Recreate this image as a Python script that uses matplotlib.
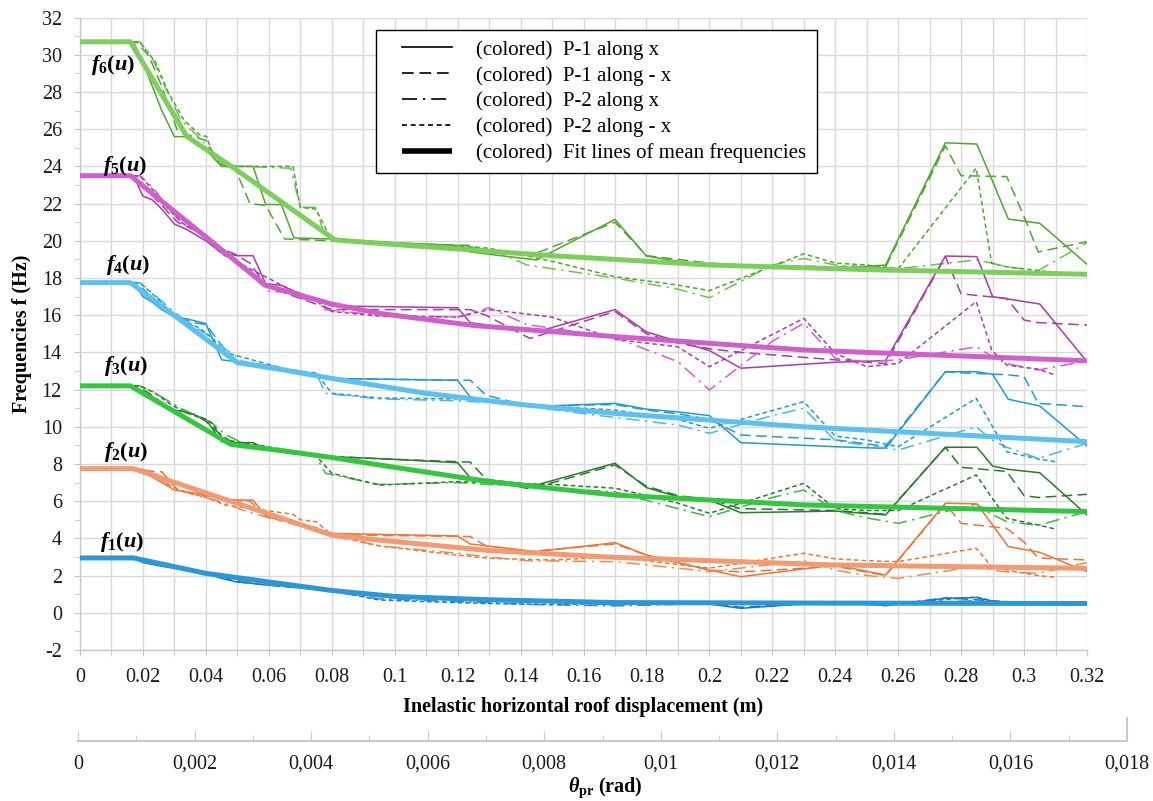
import numpy as np
import matplotlib
matplotlib.use("Agg")
import matplotlib.pyplot as plt
from matplotlib.lines import Line2D
from matplotlib.ticker import MultipleLocator
from matplotlib.legend_handler import HandlerLine2D

plt.rcParams['font.family'] = ['Liberation Serif', 'DejaVu Serif']
plt.rcParams['mathtext.fontset'] = 'custom'
plt.rcParams['mathtext.rm'] = 'Liberation Serif:bold'
plt.rcParams['mathtext.it'] = 'Liberation Serif:bold:italic'
plt.rcParams['mathtext.bf'] = 'Liberation Serif:bold'
plt.rcParams['axes.unicode_minus'] = False

# ---------------- data ----------------
X_S1 = [0, 0.017, 0.020, 0.023, 0.026, 0.030, 0.034, 0.040, 0.045, 0.050, 0.055, 0.059, 0.064, 0.068,
        0.080, 0.100, 0.120, 0.124, 0.145, 0.170, 0.180, 0.190, 0.200, 0.210, 0.240, 0.256, 0.275,
        0.285, 0.290, 0.295, 0.305, 0.320]
F6_S1 = [30.7, 30.7, 29.6, 28.3, 27.0, 25.6, 25.6, 24.9, 24.0, 24.0, 24.0, 21.95, 21.95, 20.15, 20.1,
         19.9, 19.75, 19.4, 18.97, 21.15, 19.18, 18.9, 18.7, 18.6, 18.5, 18.7, 25.27, 25.2, 23.2, 21.17,
         20.94, 18.74]
F5_S1 = [23.5, 23.5, 22.4, 22.2, 21.7, 20.9, 20.6, 20.0, 19.35, 19.2, 19.2, 17.7, 17.6, 17.3, 16.5,
         16.45, 16.4, 15.6, 15.1, 16.3, 15.1, 14.6, 14.1, 13.15, 13.47, 13.56, 19.18, 19.15, 17.0, 16.87,
         16.6, 13.5]
F4_S1 = [17.75, 17.75, 17.0, 16.7, 16.3, 15.9, 15.8, 15.55, 13.6, 13.5, 13.4, 13.3, 13.1, 13.0, 12.6,
         12.55, 12.5, 11.6, 11.1, 11.26, 10.95, 10.8, 10.6, 9.15, 8.93, 8.84, 12.96, 12.96, 12.82, 11.48,
         11.12, 8.97]
F3_S1 = [12.2, 12.2, 11.7, 11.5, 11.3, 10.9, 10.8, 10.4, 9.2, 9.15, 9.15, 8.8, 8.7, 8.55, 8.4, 8.25,
         8.07, 7.26, 6.87, 8.04, 6.73, 6.24, 6.06, 5.38, 5.47, 5.26, 8.9, 8.9, 7.89, 7.71, 7.53, 5.26]
F2_S1 = [7.75, 7.75, 7.55, 7.3, 7.0, 6.6, 6.5, 6.35, 6.1, 6.06, 6.06, 5.2, 5.0, 4.85, 4.27, 4.2, 4.13,
         3.7, 3.29, 3.77, 3.11, 2.7, 2.3, 1.94, 2.57, 2.03, 5.89, 5.86, 4.72, 3.56, 3.25, 2.21]
F1_S1 = [2.95, 2.95, 2.7, 2.6, 2.5, 2.4, 2.3, 2.12, 1.85, 1.65, 1.58, 1.5, 1.45, 1.38, 1.19, 0.85, 0.8,
         0.78, 0.69, 0.42, 0.5, 0.5, 0.47, 0.24, 0.6, 0.38, 0.78, 0.82, 0.62, 0.52, 0.5, 0.5]

X_S2 = [0, 0.018, 0.022, 0.026, 0.031, 0.036, 0.040, 0.0445, 0.049, 0.054, 0.059, 0.065, 0.080, 0.100,
        0.124, 0.129, 0.143, 0.170, 0.180, 0.190, 0.200, 0.210, 0.240, 0.256, 0.275, 0.280, 0.2945,
        0.300, 0.3045, 0.320]
F6_S2 = [30.7, 30.7, 29.9, 28.3, 25.9, 25.6, 25.4, 24.1, 24.0, 22.0, 21.9, 20.1, 20.0, 19.85, 19.75,
         19.5, 19.2, 21.0, 19.2, 19.0, 18.8, 18.7, 18.6, 18.6, 25.1, 23.5, 23.45, 21.3, 19.4, 19.95]
F5_S2 = [23.5, 23.5, 22.6, 21.9, 21.0, 20.6, 20.2, 19.6, 19.3, 18.8, 17.6, 17.2, 16.3, 16.3, 16.3, 16.0,
         14.75, 16.2, 15.0, 14.5, 14.2, 14.0, 13.6, 13.4, 19.15, 17.15, 16.9, 15.74, 15.6, 15.47]
F4_S2 = [17.75, 17.75, 17.1, 16.5, 15.9, 15.6, 15.5, 14.5, 13.5, 13.4, 13.3, 13.1, 12.6, 12.55, 12.5,
         11.7, 11.1, 11.2, 10.9, 10.7, 10.4, 9.56, 9.3, 8.95, 12.96, 12.9, 12.8, 12.7, 11.26, 11.08]
F3_S2 = [12.2, 12.2, 11.8, 11.3, 10.8, 10.7, 10.3, 9.6, 9.1, 9.1, 8.8, 8.6, 8.4, 8.25, 8.1, 7.2, 6.65,
         7.95, 6.8, 6.3, 6.1, 5.6, 5.5, 5.3, 8.9, 7.82, 7.6, 6.3, 6.2, 6.37]
F2_S2 = [7.75, 7.75, 7.62, 7.58, 6.6, 6.4, 6.3, 6.1, 6.05, 6.0, 5.2, 4.9, 4.2, 4.15, 4.1, 3.6, 3.3, 3.7,
         3.1, 2.7, 2.3, 2.2, 2.5, 2.0, 5.86, 4.81, 4.54, 3.8, 2.95, 2.84]
F1_S2 = [2.95, 2.95, 2.7, 2.6, 2.4, 2.3, 2.15, 2.0, 1.7, 1.6, 1.5, 1.4, 1.2, 0.9, 0.78, 0.72, 0.62, 0.5,
         0.5, 0.5, 0.5, 0.3, 0.55, 0.4, 0.8, 0.75, 0.6, 0.5, 0.5, 0.5]

X_S3 = [0, 0.019, 0.023, 0.027, 0.032, 0.037, 0.042, 0.046, 0.052, 0.060, 0.067, 0.070, 0.075, 0.078,
        0.095, 0.120, 0.130, 0.142, 0.170, 0.190, 0.200, 0.220, 0.230, 0.240, 0.250, 0.260, 0.2848,
        0.2897, 0.2945, 0.3045, 0.320]
F6_S3 = [30.7, 30.7, 29.8, 28.3, 26.5, 25.7, 24.8, 24.0, 24.0, 23.95, 23.9, 21.8, 21.8, 20.1, 19.9,
         19.7, 19.6, 18.7, 18.0, 17.4, 16.94, 18.7, 19.05, 18.7, 18.6, 18.5, 18.97, 18.8, 18.6, 18.4, 19.9]
F5_S3 = [23.5, 23.5, 22.9, 22.0, 21.0, 20.5, 19.9, 19.3, 18.5, 17.3, 17.2, 16.9, 16.8, 16.3, 16.0,
         15.9, 16.4, 15.5, 14.8, 13.5, 11.98, 14.6, 15.56, 13.68, 13.5, 13.6, 14.3, 13.8, 13.4, 13.05,
         13.55]
F4_S3 = [17.75, 17.75, 17.2, 16.6, 15.9, 15.3, 14.8, 14.2, 13.5, 13.3, 13.1, 13.0, 12.9, 11.8, 11.5,
         11.4, 11.3, 11.1, 10.5, 10.1, 9.65, 10.6, 11.0, 9.25, 9.0, 8.75, 10.0, 9.3, 8.9, 8.3, 9.11]
F3_S3 = [12.2, 12.2, 11.9, 11.5, 11.0, 10.6, 10.2, 9.6, 9.1, 8.9, 8.6, 8.5, 8.4, 7.5, 6.9, 7.0, 6.9,
         6.8, 6.5, 5.6, 5.17, 6.2, 6.6, 5.5, 5.1, 4.81, 5.85, 5.3, 4.9, 4.7, 5.44]
F2_S3 = [7.75, 7.75, 7.4, 7.0, 6.6, 6.3, 6.1, 5.9, 5.5, 5.1, 4.9, 4.7, 4.6, 4.2, 3.6, 3.2, 3.0, 2.8,
         2.75, 2.4, 2.21, 2.6, 2.8, 2.3, 2.0, 1.85, 2.5, 2.3, 2.2, 2.12, 2.7]
F1_S3 = [2.95, 2.95, 2.7, 2.55, 2.4, 2.25, 2.1, 1.9, 1.7, 1.5, 1.4, 1.35, 1.3, 1.2, 0.75, 0.6, 0.55,
         0.45, 0.37, 0.45, 0.5, 0.5, 0.5, 0.5, 0.5, 0.5, 0.65, 0.6, 0.55, 0.5, 0.5]

X_S4 = [0, 0.019, 0.024, 0.028, 0.033, 0.038, 0.0403, 0.0418, 0.046, 0.0677, 0.070, 0.075, 0.080,
        0.095, 0.120, 0.130, 0.150, 0.170, 0.190, 0.200, 0.230, 0.240, 0.250, 0.260, 0.2848, 0.2897,
        0.2945, 0.3045, 0.310]
F6_S4 = [30.7, 30.7, 29.6, 28.0, 26.5, 25.7, 25.6, 24.8, 24.0, 24.0, 21.8, 21.7, 20.0, 19.85, 19.7,
         19.6, 18.9, 18.07, 17.62, 17.32, 19.3, 18.8, 18.7, 18.5, 23.9, 18.79, 18.6, 18.4, 18.3]
F5_S4 = [23.5, 23.5, 22.6, 21.7, 20.9, 20.5, 20.3, 19.8, 19.2, 17.3, 17.0, 16.8, 16.2, 15.95, 15.9,
         16.3, 15.9, 14.7, 14.3, 13.23, 15.83, 13.95, 13.23, 13.41, 16.73, 14.13, 13.32, 13.1, 12.78]
F4_S4 = [17.75, 17.75, 17.0, 16.3, 15.7, 15.3, 15.0, 14.8, 14.0, 13.0, 12.95, 12.9, 11.8, 11.55, 11.5,
         11.4, 11.1, 10.9, 10.4, 9.92, 11.35, 9.5, 9.29, 8.93, 11.53, 10.1, 8.66, 8.27, 8.12]
F3_S4 = [12.2, 12.2, 11.8, 11.3, 10.8, 10.5, 10.4, 10.2, 9.3, 8.7, 8.6, 8.45, 7.5, 6.87, 7.05, 7.0,
         6.9, 6.7, 5.9, 5.35, 6.96, 5.6, 5.5, 5.5, 7.41, 6.2, 5.08, 4.72, 4.5]
F2_S4 = [7.75, 7.75, 7.5, 6.9, 6.5, 6.3, 6.2, 6.1, 5.8, 5.3, 5.0, 4.9, 4.2, 3.6, 3.1, 2.93, 2.84, 3.0,
         2.6, 2.4, 3.2, 2.9, 2.8, 2.75, 3.47, 2.48, 2.3, 2.0, 1.91]
F1_S4 = [2.95, 2.95, 2.65, 2.5, 2.35, 2.2, 2.15, 2.1, 1.9, 1.5, 1.45, 1.4, 1.2, 0.69, 0.55, 0.5, 0.45,
         0.5, 0.5, 0.5, 0.5, 0.5, 0.5, 0.5, 0.85, 0.65, 0.55, 0.5, 0.5]

FIT6_X = [0, 0.016, 0.034, 0.049, 0.081, 0.10, 0.15, 0.20, 0.25, 0.32]
FIT6_Y = [30.7, 30.7, 25.6, 23.9, 20.05, 19.8, 19.2, 18.7, 18.45, 18.2]
FIT5_X = [0, 0.016, 0.059, 0.08, 0.095, 0.125, 0.17, 0.23, 0.32]
FIT5_Y = [23.5, 23.5, 17.6, 16.6, 16.1, 15.45, 14.85, 14.13, 13.55]
FIT4_X = [0, 0.016, 0.05, 0.065, 0.08, 0.095, 0.11, 0.14, 0.17, 0.23, 0.32]
FIT4_Y = [17.75, 17.75, 13.45, 13.05, 12.6, 12.2, 11.8, 11.2, 10.72, 10.0, 9.2]
FIT3_X = [0, 0.016, 0.048, 0.065, 0.08, 0.095, 0.13, 0.17, 0.23, 0.32]
FIT3_Y = [12.2, 12.2, 9.05, 8.7, 8.35, 7.95, 7.05, 6.33, 5.8, 5.44]
FIT2_X = [0, 0.017, 0.08, 0.095, 0.13, 0.17, 0.24, 0.32]
FIT2_Y = [7.75, 7.75, 4.18, 3.91, 3.35, 2.98, 2.57, 2.39]
FIT1_X = [0, 0.017, 0.04, 0.08, 0.10, 0.13, 0.17, 0.24, 0.32]
FIT1_Y = [2.95, 2.95, 2.12, 1.2, 0.88, 0.7, 0.55, 0.52, 0.5]

MODE_NAMES = ['6', '5', '4', '3', '2', '1']
LABEL_POS = [(0.0105, 29.45), (0.0143, 24.0), (0.0153, 18.7), (0.0145, 13.27), (0.0145, 8.64), (0.0135, 3.8)]
DATA_COLORS = ['#4ea72e', '#a83ca8', '#1f9ad6', '#2b7a2e', '#ec7536', '#1976c8']
S3_COLORS = ['#6cc24a', '#d65ad6', '#45b8ec', '#3fb54a', '#f08a50', '#2e8fd8']
FIT_COLORS = ['#7ccf5c', '#d15fcb', '#5cc0f0', '#35c640', '#f29a72', '#2a97d8']

XTICKS = [0, 0.02, 0.04, 0.06, 0.08, 0.1, 0.12, 0.14, 0.16, 0.18, 0.2, 0.22, 0.24, 0.26, 0.28, 0.3, 0.32]
XTICK_LABELS = ['0', '0.02', '0.04', '0.06', '0.08', '0.1', '0.12', '0.14', '0.16', '0.18', '0.2',
                '0.22', '0.24', '0.26', '0.28', '0.3', '0.32']
SEC_TICKS = [0, 0.002, 0.004, 0.006, 0.008, 0.01, 0.012, 0.014, 0.016, 0.018]
SEC_TICK_LABELS = ['0', '0,002', '0,004', '0,006', '0,008', '0,01', '0,012', '0,014', '0,016', '0,018']
LEGEND_LABELS = ['(colored)  P-1 along x', '(colored)  P-1 along - x', '(colored)  P-2 along x',
                 '(colored)  P-2 along - x', '(colored)  Fit lines of mean frequencies']

S1_ALL = [F6_S1, F5_S1, F4_S1, F3_S1, F2_S1, F1_S1]
S2_ALL = [F6_S2, F5_S2, F4_S2, F3_S2, F2_S2, F1_S2]
S3_ALL = [F6_S3, F5_S3, F4_S3, F3_S3, F2_S3, F1_S3]
S4_ALL = [F6_S4, F5_S4, F4_S4, F3_S4, F2_S4, F1_S4]
FIT_X_ALL = [FIT6_X, FIT5_X, FIT4_X, FIT3_X, FIT2_X, FIT1_X]
FIT_Y_ALL = [FIT6_Y, FIT5_Y, FIT4_Y, FIT3_Y, FIT2_Y, FIT1_Y]


class OffsetLineHandler(HandlerLine2D):
    """Draw the legend line only on the right part of the handle box."""
    def create_artists(self, legend, orig_handle, xdescent, ydescent, width, height, fontsize, trans):
        artists = super().create_artists(legend, orig_handle, xdescent, ydescent, width, height,
                                         fontsize, trans)
        for a in artists:
            xd = a.get_xdata()
            if len(xd) >= 2:
                a.set_xdata([-xdescent + 0.23 * width, width - xdescent])
                a.set_ydata([a.get_ydata()[0]] * 2)
        return artists


# ---------------- figure ----------------
W, H = 1153, 801
fig = plt.figure(figsize=(W / 100, H / 100), dpi=100)
ax = fig.add_axes([80 / W, 1 - 650 / H, (1087 - 80) / W, (650 - 17.6) / H])

LW = 1.1
DASH_S2 = (7, 3.5)
DASH_S3 = (9, 3.5, 1.5, 3.5)
DASH_S4 = (3, 2)

for i in range(6):
    c = DATA_COLORS[i]
    ax.plot(X_S1, S1_ALL[i], color=c, lw=LW, zorder=2)
    ax.plot(X_S2, S2_ALL[i], color=c, lw=LW, dashes=DASH_S2, zorder=2)
    ax.plot(X_S3, S3_ALL[i], color=S3_COLORS[i], lw=LW, dashes=DASH_S3, zorder=2)
    ax.plot(X_S4, S4_ALL[i], color=c, lw=LW, dashes=DASH_S4, zorder=2)
    ax.plot(FIT_X_ALL[i], FIT_Y_ALL[i], color=FIT_COLORS[i], lw=3.6, zorder=3,
            solid_capstyle='butt', solid_joinstyle='round')
    lx, ly = LABEL_POS[i]
    ax.text(lx, ly, r'$f_{\mathit{%s}}\mathit{(u)}$' % MODE_NAMES[i], fontsize=16,
            ha='center', va='center', zorder=5)

ax.set_xlim(0, 0.32)
ax.set_ylim(-2, 32)
ax.set_xticks(XTICKS)
ax.set_xticklabels(XTICK_LABELS)
ax.xaxis.set_minor_locator(MultipleLocator(0.01))
ax.set_yticks(np.arange(-2, 33, 2))
ax.yaxis.set_minor_locator(MultipleLocator(1))
ax.grid(which='major', color='#d9d9d9', lw=1.0, zorder=0)
ax.grid(which='minor', axis='x', color='#d9d9d9', lw=1.0, zorder=0)
ax.set_axisbelow(True)
for s in ['top', 'right']:
    ax.spines[s].set_visible(False)
for s in ['left', 'bottom']:
    ax.spines[s].set_color('#c8c8c8')
    ax.spines[s].set_linewidth(1.0)
ax.tick_params(which='both', direction='out', color='#c8c8c8', labelsize=14.5, labelcolor='#1a1a1a')
ax.tick_params(which='major', length=4)
ax.tick_params(which='minor', length=4)
ax.tick_params(axis='x', pad=9)
ax.tick_params(axis='y', pad=9)
ax.set_xlabel('Inelastic horizontal roof displacement (m)', fontsize=14.5, fontweight='bold', labelpad=7)
ax.set_ylabel('Frequencies f (Hz)', fontsize=14.5, fontweight='bold', labelpad=7)

handles = [
    Line2D([], [], color='black', lw=1.2),
    Line2D([], [], color='black', lw=1.2, dashes=(7, 3.5)),
    Line2D([], [], color='black', lw=1.2, dashes=(9, 3.5, 1.5, 3.5)),
    Line2D([], [], color='black', lw=1.2, dashes=(3, 2.2)),
    Line2D([], [], color='black', lw=4.0, solid_capstyle='butt'),
]
leg = ax.legend(handles, LEGEND_LABELS, loc='upper left', bbox_to_anchor=(0.294, 0.981),
                borderaxespad=0, fontsize=15, frameon=True, fancybox=False, framealpha=1,
                edgecolor='black', handlelength=3.15, handletextpad=1.15, labelspacing=0.29,
                borderpad=0.5, handler_map={Line2D: OffsetLineHandler()})
leg.get_frame().set_linewidth(1.0)
leg.set_zorder(10)

# secondary axis (theta_pr)
ax2 = fig.add_axes([78 / W, 1 - 741 / H, (1127 - 78) / W, 23 / H])
ax2.set_xlim(0, 0.018)
ax2.set_ylim(0, 1)
ax2.patch.set_alpha(0)
for s in ['top', 'left']:
    ax2.spines[s].set_visible(False)
for s in ['bottom', 'right']:
    ax2.spines[s].set_color('#c8c8c8')
    ax2.spines[s].set_linewidth(1.5)
ax2.set_yticks([])
ax2.set_xticks(SEC_TICKS)
ax2.set_xticklabels(SEC_TICK_LABELS)
ax2.xaxis.set_minor_locator(MultipleLocator(0.001))
ax2.tick_params(axis='x', which='both', direction='in', color='#c8c8c8', labelsize=14.5,
                labelcolor='#1a1a1a', pad=10)
ax2.tick_params(axis='x', which='major', length=7)
ax2.tick_params(axis='x', which='minor', length=4)
fig.text(605 / W, 1 - 788 / H, r'$\mathit{\theta}_{\mathrm{pr}}$' + ' (rad)', fontsize=14.5,
         fontweight='bold', ha='center', va='center')

fig.savefig('out.png', dpi=100)
